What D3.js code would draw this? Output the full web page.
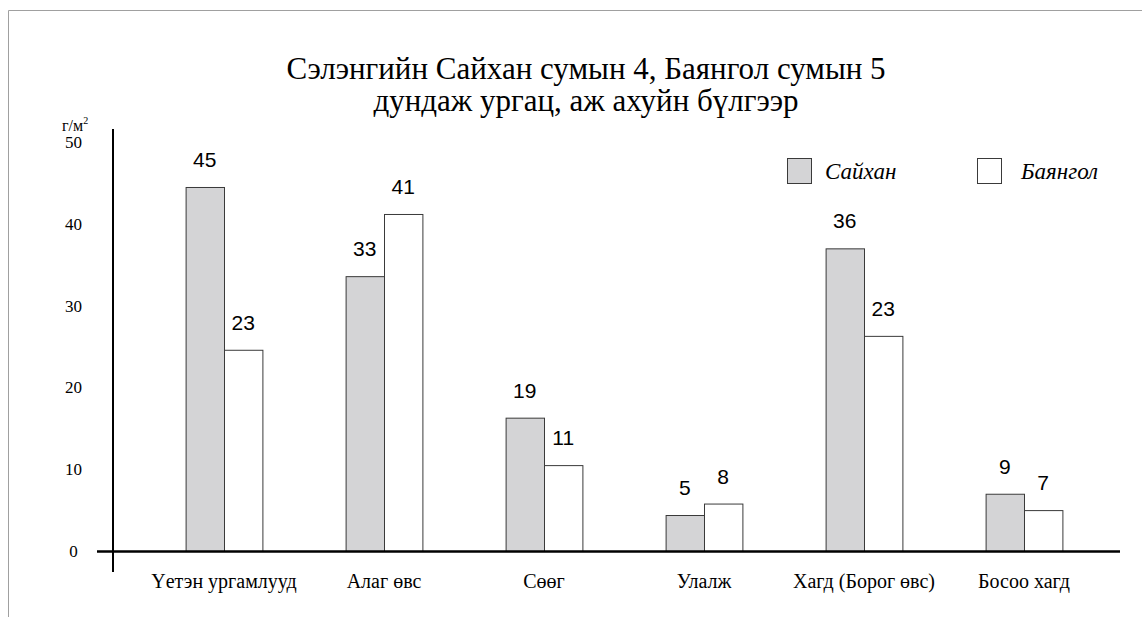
<!DOCTYPE html>
<html>
<head>
<meta charset="utf-8">
<script src="https://cdn.jsdelivr.net/npm/d3@7"></script>
<style>
    body { margin: 0; background: #fff; }
    svg { display: block; }
</style>
</head>
<body>
<div id="chart"></div>
<script>
// categories and series
const categories = ["Үетэн ургамлууд", "Алаг өвс", "Сөөг", "Улалж", "Хагд (Борог өвс)", "Босоо хагд"];
const series = ["Сайхан", "Баянгол"];

// bar heights as drawn (g/m2)
const saikhanValues = [44.5, 33.6, 16.3, 4.4, 37.0, 7.0];
const bayangolValues = [24.6, 41.2, 10.5, 5.8, 26.3, 5.0];

// printed value labels
const saikhanLabels = ["45", "33", "19", "5", "36", "9"];
const bayangolLabels = ["23", "41", "11", "8", "23", "7"];

const yTicks = [0, 10, 20, 30, 40, 50];

const titleLines = ["Сэлэнгийн Сайхан сумын 4, Баянгол сумын 5", "дундаж ургац, аж ахуйн бүлгээр"];

const WIDTH = 1142;
const HEIGHT = 617;
const SERIF = '"Liberation Serif", "Times New Roman", serif';
const SANS = '"Liberation Sans", Arial, sans-serif';
const colors = {"Сайхан": "#d4d4d6", "Баянгол": "#ffffff"};

const svg = d3.select("#chart").append("svg")
    .attr("width", WIDTH)
    .attr("height", HEIGHT);

// outer frame (only top and left edges show)
svg.append("line")
    .attr("x1", 8.5).attr("x2", WIDTH).attr("y1", 10.5).attr("y2", 10.5)
    .attr("stroke", "#a0a0a0").attr("stroke-width", 1);
svg.append("line")
    .attr("x1", 8.5).attr("x2", 8.5).attr("y1", 10.5).attr("y2", HEIGHT)
    .attr("stroke", "#a0a0a0").attr("stroke-width", 1);

const x = d3.scaleBand()
    .domain(categories)
    .range([144, 1104])
    .paddingInner(0.52)
    .paddingOuter(0.26);

const xs = d3.scaleBand()
    .domain(series)
    .range([0, x.bandwidth()]);

const y = d3.scaleLinear()
    .domain([0, 50])
    .range([551, 142]);

// title
svg.append("g").selectAll("text")
    .data(titleLines)
    .enter().append("text")
        .attr("x", 586)
        .attr("y", (d, i) => 79 + i * 32)
        .attr("text-anchor", "middle")
        .style("font-family", SERIF)
        .style("font-size", "31px")
        .text(d => d);

// unit label
const unit = svg.append("text")
    .attr("x", 62)
    .attr("y", 131)
    .style("font-family", SERIF)
    .style("font-size", "16px");
unit.append("tspan").text("г/м");
unit.append("tspan").style("font-size", "10px").attr("dy", -7).text("2");

// y axis tick labels
const yAxis = d3.axisLeft(y)
    .tickValues(yTicks)
    .tickSize(0)
    .tickFormat(d3.format("d"));

const yg = svg.append("g")
    .attr("transform", "translate(113,0)")
    .call(yAxis);
yg.select(".domain").remove();
yg.selectAll("text")
    .attr("x", -39.5)
    .attr("text-anchor", "middle")
    .style("font-family", SERIF)
    .style("font-size", "17px");

// bars
const rows = categories.map((c, i) => ({
    category: c,
    bars: [
        {key: series[0], value: saikhanValues[i], label: saikhanLabels[i]},
        {key: series[1], value: bayangolValues[i], label: bayangolLabels[i]}
    ]
}));

const groups = svg.append("g").selectAll("g")
    .data(rows)
    .enter().append("g")
        .attr("transform", d => `translate(${x(d.category)},0)`);

groups.selectAll("rect")
    .data(d => d.bars)
    .enter().append("rect")
        .attr("x", d => xs(d.key) + 0.5)
        .attr("y", d => y(d.value) + 0.5)
        .attr("width", xs.bandwidth())
        .attr("height", d => y(0) - y(d.value))
        .attr("fill", d => colors[d.key])
        .attr("stroke", "#3a3a3a")
        .attr("stroke-width", 1);

groups.selectAll("text")
    .data(d => d.bars)
    .enter().append("text")
        .attr("x", d => xs(d.key) + xs.bandwidth() / 2)
        .attr("y", d => y(d.value) - 20)
        .attr("text-anchor", "middle")
        .style("font-family", SANS)
        .style("font-size", "21px")
        .text(d => d.label);

// axis lines
svg.append("line")
    .attr("x1", 113).attr("x2", 113).attr("y1", 129).attr("y2", 572)
    .attr("stroke", "#000").attr("stroke-width", 2);
svg.append("line")
    .attr("x1", 97).attr("x2", 1120).attr("y1", y(0) + 0.5).attr("y2", y(0) + 0.5)
    .attr("stroke", "#000").attr("stroke-width", 2.5);

// category labels
svg.append("g").selectAll("text")
    .data(categories)
    .enter().append("text")
        .attr("x", d => x(d) + x.bandwidth() / 2)
        .attr("y", 588)
        .attr("text-anchor", "middle")
        .style("font-family", SERIF)
        .style("font-size", "20px")
        .text(d => d);

// legend
const legendBoxX = [787, 977];
const legendTextX = [825, 1021];

svg.append("g").selectAll("rect")
    .data(series)
    .enter().append("rect")
        .attr("x", (d, i) => legendBoxX[i] + 0.5)
        .attr("y", 158.5)
        .attr("width", 24)
        .attr("height", 25)
        .attr("fill", d => colors[d])
        .attr("stroke", "#3a3a3a");

svg.append("g").selectAll("text")
    .data(series)
    .enter().append("text")
        .attr("x", (d, i) => legendTextX[i])
        .attr("y", 179)
        .style("font-family", SERIF)
        .style("font-size", "23px")
        .style("font-style", "italic")
        .text(d => d);
</script>
</body>
</html>
